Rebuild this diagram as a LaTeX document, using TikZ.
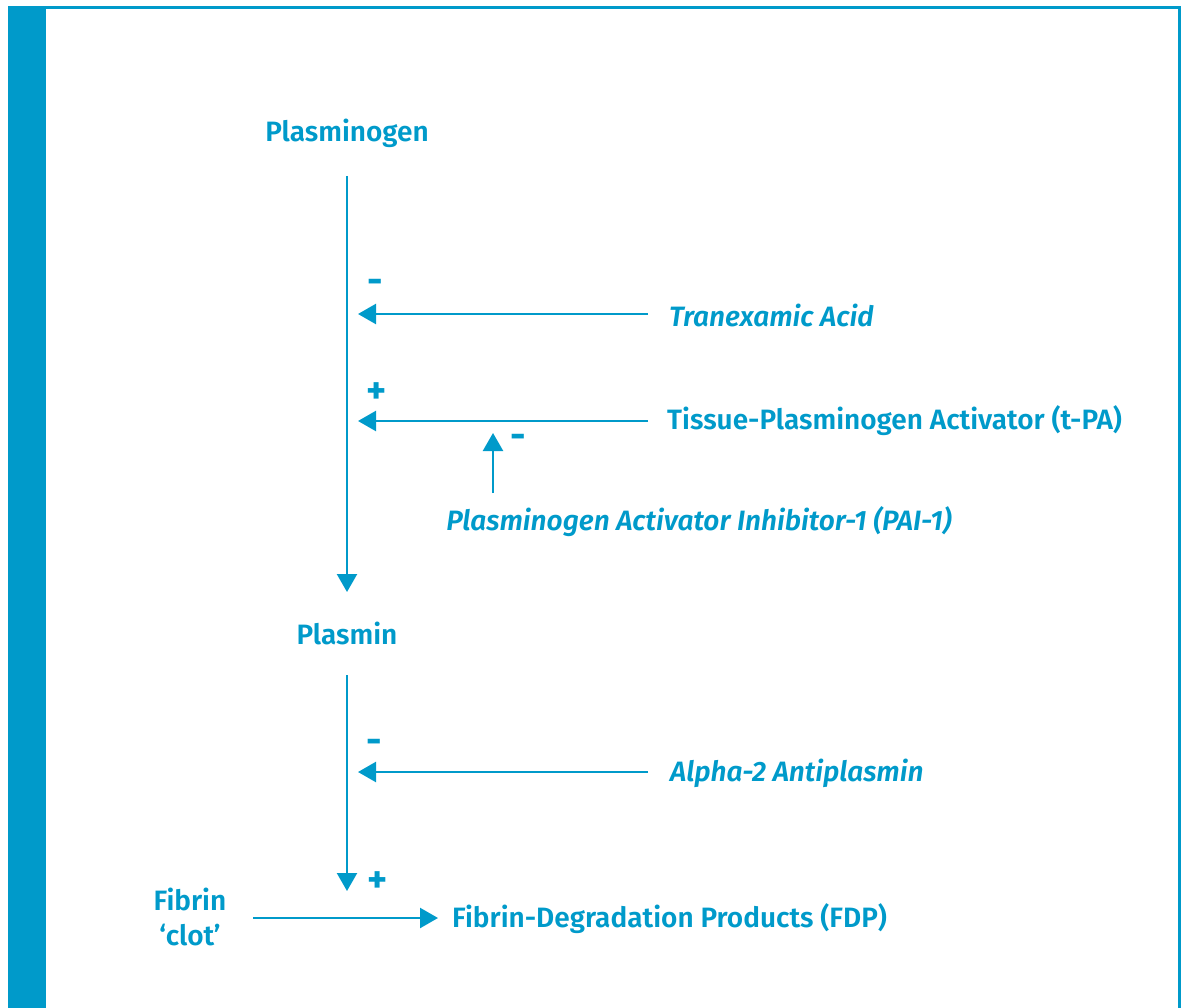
\documentclass[tikz,border=0pt]{standalone}
\usepackage{fontspec}
\setmainfont{Fira Sans}[UprightFont={* SemiBold},ItalicFont={* SemiBold Italic},BoldFont={* Bold}]
\usetikzlibrary{arrows.meta}
\definecolor{cblue}{RGB}{0,154,202}
\tikzset{
  lbl/.style={text=cblue,font=\fontsize{28}{33}\selectfont,inner sep=0pt},
  sgn/.style={text=cblue,font=\fontsize{38}{42}\selectfont\bfseries,inner sep=0pt},
  arr/.style={draw=cblue,line width=2.4pt,-{Triangle[length=18pt,width=20pt]}},
}
\begin{document}
\begin{tikzpicture}[x=1pt,y=-1pt]
\useasboundingbox (0,0) rectangle (1186,1008);
\fill[cblue] (8,6) rectangle (46,1008);
\draw[cblue,line width=3pt] (46,7.5) -- (1179.5,7.5) -- (1179.5,1008);
% nodes
\node[lbl] (plg) at (347,133) {Plasminogen};
\node[lbl] (pl) at (347,633) {Plasmin};
\node[lbl,anchor=west] (txa) at (669,315) {\itshape Tranexamic Acid};
\node[lbl,anchor=west] (tpa) at (667,421) {Tissue-Plasminogen Activator (t-PA)};
\node[lbl] (pai) at (699,522) {\itshape Plasminogen Activator Inhibitor-1 (PAI-1)};
\node[lbl,anchor=west] (a2) at (670,773) {\itshape Alpha-2 Antiplasmin};
\node[lbl,align=center] (fib) at (190,917) {Fibrin\\[2pt]`clot'};
\node[lbl,anchor=west] (fdp) at (452,919) {Fibrin-Degradation Products (FDP)};
% signs
\node[sgn] (s1) at (375,286) {-};
\node[sgn] (s2) at (377,393) {+};
\node[sgn] (s3) at (518,441) {-};
\node[sgn] (s4) at (374,746) {-};
\node[sgn] (s5) at (378,882) {+};
% coordinates
\coordinate (v1s) at (347,176);
\coordinate (v1e) at (347,592);
\coordinate (v2s) at (347,675);
\coordinate (v2e) at (347,891);
\coordinate (h1s) at (648,314);
\coordinate (h1e) at (358,314);
\coordinate (h2s) at (648,421);
\coordinate (h2e) at (358,421);
\coordinate (ups) at (493,493);
\coordinate (upe) at (493,433);
\coordinate (h3s) at (648,772);
\coordinate (h3e) at (358,772);
\coordinate (fs) at (253,918);
\coordinate (fe) at (438,918);
\draw[arr] (v1s) -- (v1e);
\draw[arr] (v2s) -- (v2e);
\draw[arr] (h1s) -- (h1e);
\draw[arr] (h2s) -- (h2e);
\draw[arr] (ups) -- (upe);
\draw[arr] (h3s) -- (h3e);
\draw[arr] (fs) -- (fe);
\end{tikzpicture}
\end{document}
